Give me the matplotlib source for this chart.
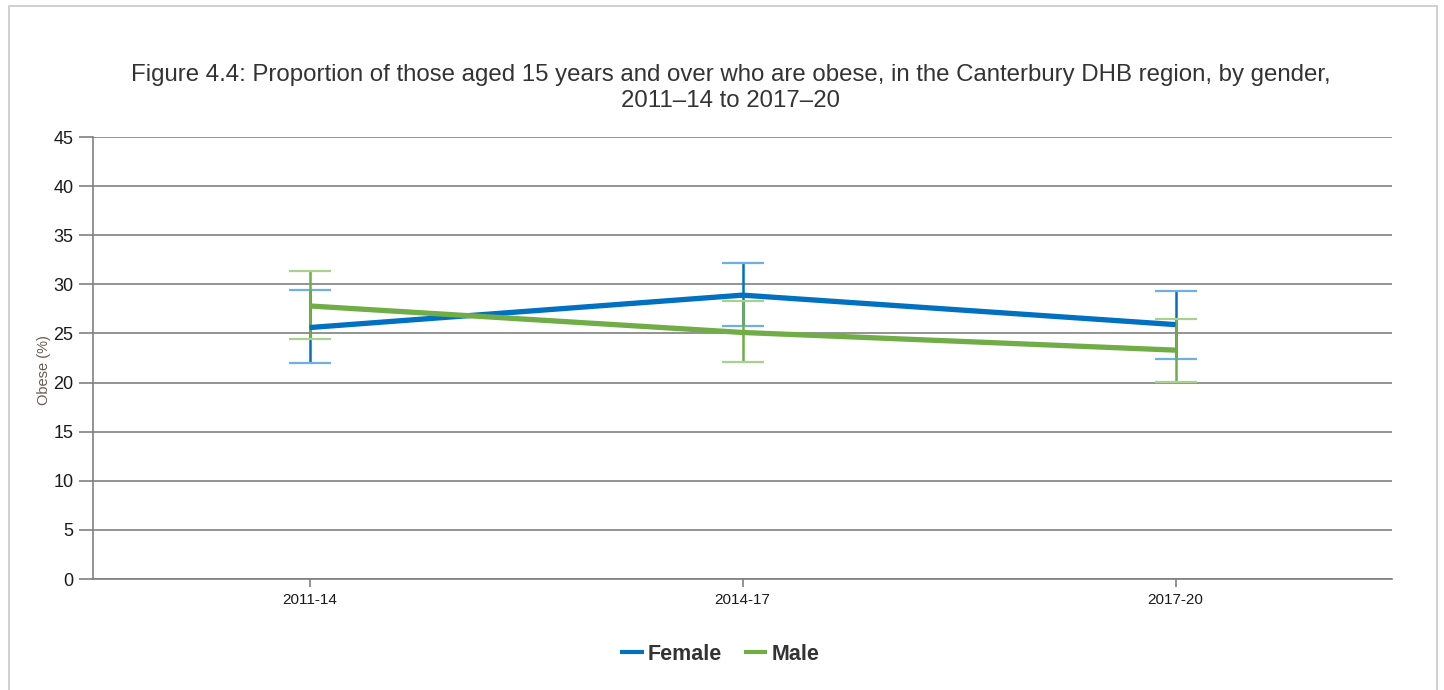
import numpy as np
import matplotlib.pyplot as plt
from matplotlib.patches import Rectangle

periodos = ["2011-14", "2014-17", "2017-20"]
mujer = [25.6, 28.9, 25.9]
mujer_inf = [22.0, 25.8, 22.4]
mujer_sup = [29.4, 32.2, 29.3]
hombre = [27.8, 25.1, 23.3]
hombre_inf = [24.4, 22.1, 20.1]
hombre_sup = [31.4, 28.3, 26.5]

azul = "#0070c0"
azul_claro = "#6fb0e0"
verde = "#70ad47"
verde_claro = "#a9d18e"

plt.rcParams['font.family'] = ['Liberation Sans', 'DejaVu Sans']

fig = plt.figure(figsize=(14.44, 6.9), dpi=100)
fig.patches.append(Rectangle((9 / 1444, -0.01), 1428 / 1444, 1.0 - 6 / 690 + 0.01,
                             transform=fig.transFigure, fill=False,
                             edgecolor="#c8c8c8", linewidth=1.2))
ax = fig.add_axes([93 / 1444, 1 - 579 / 690, (1392 - 93) / 1444, (579 - 137) / 690])

x = np.arange(len(periodos))

def dibujar(valores, inf, sup, color, claro, nombre):
    ax.vlines(x, inf, sup, color=color, linewidth=1.8, zorder=3)
    ax.plot(x, inf, linestyle="none", marker="_", markersize=30,
            markeredgewidth=1.6, color=claro, zorder=3)
    ax.plot(x, sup, linestyle="none", marker="_", markersize=30,
            markeredgewidth=1.6, color=claro, zorder=3)
    ax.plot(x, valores, color=color, linewidth=3.8, label=nombre,
            solid_capstyle="butt", zorder=4)

dibujar(mujer, mujer_inf, mujer_sup, azul, azul_claro, "Female")
dibujar(hombre, hombre_inf, hombre_sup, verde, verde_claro, "Male")

ax.set_xlim(-0.5, 2.5)
ax.set_ylim(0, 45)
ax.set_yticks(range(0, 46, 5))
ax.set_xticks(x)
ax.set_xticklabels(periodos)
ax.grid(axis="y", color="#808080", linewidth=1.2)
ax.set_axisbelow(True)
for lado in ["top", "right"]:
    ax.spines[lado].set_visible(False)
ax.spines["left"].set_color("#808080")
ax.spines["bottom"].set_color("#808080")
ax.spines["left"].set_linewidth(1.2)
ax.spines["bottom"].set_linewidth(1.2)
ax.tick_params(axis="y", length=10, color="#808080", width=1.2, labelsize=13,
               labelcolor="#1a1a1a", pad=4)
ax.tick_params(axis="x", length=6, color="#808080", width=1.2, labelsize=11,
               labelcolor="#1a1a1a", pad=4)
ax.set_ylabel("Obese (%)", fontsize=10.5, color="#6b5a50")
ax.yaxis.set_label_coords(-0.032, 0.473)

fig.text(0.506, 1 - 88 / 690, "Figure 4.4: Proportion of those aged 15 years and over who are obese, in the Canterbury DHB region, by gender,\n2011\u201314 to 2017\u201320",
         ha="center", va="center", fontsize=17.3, color="#333333", linespacing=1.25)

leg = fig.legend(loc="center", bbox_to_anchor=(0.4985, 1 - 654 / 690), ncol=2,
                 frameon=False, handlelength=1.1, handletextpad=0.2, columnspacing=1.0,
                 prop={"size": 15.5, "weight": "bold"})
for linea in leg.get_lines():
    linea.set_linewidth(3)
for t in leg.get_texts():
    t.set_color("#333333")

fig.savefig("out.png", dpi=100)
